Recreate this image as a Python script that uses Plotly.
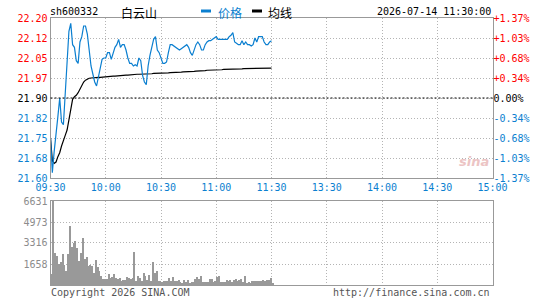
import plotly.graph_objects as go

W, H = 545, 300
prev_close = 21.90

# ---- data (morning session, one point per minute from 09:30 to 11:30) ----
minutes = list(range(121))
price = [21.75, 21.62, 21.70, 21.78, 21.83, 21.90, 21.81, 21.80, 21.93, 22.04,
         22.15, 22.18, 22.10, 22.09, 22.04, 22.03, 22.11, 22.13, 22.17, 22.17,
         22.14, 22.08, 22.02, 21.99, 21.96, 21.945, 21.98, 22.01, 22.045, 22.05,
         22.05, 22.07, 22.07, 22.045, 22.07, 22.09, 22.10, 22.12, 22.09, 22.10,
         22.10, 22.08, 22.05, 22.03, 22.03, 22.02, 22.025, 22.02, 22.05, 22.04,
         21.985, 21.96, 21.95, 22.02, 22.06, 22.09, 22.12, 22.13, 22.08, 22.07,
         22.05, 22.03, 22.03, 22.035, 22.07, 22.10, 22.10, 22.095, 22.09, 22.085,
         22.08, 22.085, 22.09, 22.095, 22.10, 22.09, 22.07, 22.06, 22.08, 22.10,
         22.11, 22.10, 22.08, 22.08, 22.10, 22.11, 22.115, 22.115, 22.12, 22.125,
         22.13, 22.12, 22.12, 22.12, 22.12, 22.12, 22.12, 22.13, 22.135, 22.145,
         22.11, 22.105, 22.10, 22.10, 22.115, 22.10, 22.11, 22.10, 22.10, 22.095,
         22.10, 22.125, 22.11, 22.13, 22.13, 22.13, 22.11, 22.10, 22.10, 22.11, 22.115]
avg = [21.75, 21.665, 21.655, 21.66, 21.68, 21.695, 21.72, 21.745, 21.76, 21.78,
       21.815, 21.86, 21.895, 21.905, 21.91, 21.92, 21.935, 21.95, 21.96, 21.967,
       21.972, 21.974, 21.975, 21.976, 21.976, 21.976, 21.977, 21.977, 21.978, 21.978,
       21.979, 21.98, 21.98, 21.981, 21.982, 21.982, 21.983, 21.984, 21.984, 21.985,
       21.985, 21.986, 21.986, 21.987, 21.987, 21.988, 21.988, 21.989, 21.989, 21.989,
       21.99, 21.99, 21.99, 21.991, 21.991, 21.991, 21.992, 21.992, 21.992, 21.993,
       21.993, 21.993, 21.994, 21.994, 21.994, 21.995, 21.995, 21.995, 21.996, 21.996,
       21.997, 21.997, 21.998, 21.998, 21.999, 21.999, 22.0, 22.0, 22.0, 22.001,
       22.001, 22.002, 22.002, 22.003, 22.003, 22.004, 22.004, 22.004, 22.005, 22.005,
       22.005, 22.006, 22.006, 22.006, 22.007, 22.007, 22.007, 22.008, 22.008, 22.008,
       22.008, 22.009, 22.009, 22.009, 22.009, 22.01, 22.01, 22.01, 22.01, 22.01,
       22.011, 22.011, 22.011, 22.011, 22.011, 22.011, 22.012, 22.012, 22.012, 22.012, 22.012]
volume = [868, 6631, 2526, 2315, 1658, 1816, 2447, 1605, 1132, 2447,
          4684, 3000, 3289, 3500, 2920, 1920, 2526, 3710, 2079, 2236,
          1526, 1605, 1526, 974, 1974, 1421, 1132, 710, 474, 474,
          474, 868, 553, 658, 868, 553, 500, 553, 290, 395,
          395, 632, 553, 500, 553, 2605, 290, 710, 553, 290,
          947, 710, 395, 816, 290, 1816, 947, 1132, 290, 290,
          263, 290, 290, 342, 553, 290, 632, 290, 290, 395,
          210, 132, 395, 263, 395, 132, 263, 263, 474, 658,
          500, 684, 237, 237, 237, 237, 447, 447, 237, 290,
          605, 684, 237, 237, 237, 368, 342, 395, 237, 395,
          474, 290, 421, 474, 237, 684, 132, 237, 158, 290,
          290, 290, 290, 290, 290, 395, 290, 395, 395, 553, 132]

x_tick_vals = [0, 30, 60, 90, 120, 150, 180, 210, 240]
x_tick_text = ["09:30", "10:00", "10:30", "11:00", "11:30", "13:30", "14:00", "14:30", "15:00"]
price_ticks = [21.60, 21.675, 21.75, 21.825, 21.90, 21.975, 22.05, 22.125, 22.20]
price_tick_text = ["21.60", "21.68", "21.75", "21.82", "21.90", "21.97", "22.05", "22.12", "22.20"]
pct_tick_text = ["-1.37%", "-1.03%", "-0.68%", "-0.34%", "0.00%", "+0.34%", "+0.68%", "+1.03%", "+1.37%"]
vol_ticks = [1658, 3316, 4973, 6631]
vol_tick_text = ["1658", "3316", "4973", "6631"]

RED = "#ff0000"
BLUE = "#0b7fd0"
BLACK = "#000000"
GRAY = "#999999"
GRID = "#b4b4b4"
MONO = "DejaVu Sans Mono"
CJK = "Noto Sans CJK SC"


def col(v):
    if abs(v - prev_close) < 1e-9:
        return BLACK
    return RED if v > prev_close else BLUE


def px(x):
    return x / W


def py(y):
    return 1 - y / H


price_tt = ['<span style="color:%s">%s</span>' % (col(v), t) for v, t in zip(price_ticks, price_tick_text)]
pct_vals = [(v / prev_close - 1) * 100 for v in price_ticks]
pct_tt = ['<span style="color:%s">%s</span>' % (col(v), t) for v, t in zip(price_ticks, pct_tick_text)]
pct_pr = [(p / prev_close - 1) * 100 for p in price]

xdom = [px(50.5), px(492.5)]
main_dom = [py(178), py(18)]
vol_dom = [py(285), py(201)]

fig = go.Figure()
fig.add_trace(go.Scatter(x=minutes, y=avg, mode="lines", line=dict(color=BLACK, width=1.2),
                         xaxis="x", yaxis="y", hoverinfo="skip"))
fig.add_trace(go.Scatter(x=minutes, y=price, mode="lines", line=dict(color=BLUE, width=1.2),
                         xaxis="x", yaxis="y", hoverinfo="skip"))
fig.add_trace(go.Scatter(x=minutes, y=pct_pr, mode="lines", line=dict(color=BLUE, width=0),
                         opacity=0, xaxis="x", yaxis="y2", hoverinfo="skip"))
fig.add_trace(go.Bar(x=[m + 0.3 for m in minutes], y=volume, width=0.55, marker=dict(color=GRAY, line=dict(width=0)),
                     xaxis="x2", yaxis="y3", hoverinfo="skip"))

common_x = dict(range=[0, 240], tickvals=x_tick_vals, showgrid=True, gridcolor=GRID, griddash="1px,2px",
                gridwidth=1, showline=True, linecolor=GRAY, linewidth=1, mirror=True, zeroline=False,
                ticks="", automargin=False, fixedrange=True)

fig.update_layout(
    width=W, height=H, autosize=False,
    margin=dict(l=0, r=0, t=0, b=0, pad=0),
    paper_bgcolor="white", plot_bgcolor="white",
    showlegend=False, bargap=0,
    font=dict(family=MONO, size=10, color=BLACK),
    xaxis=dict(domain=xdom, anchor="y", ticktext=x_tick_text,
               tickfont=dict(family=MONO, size=10, color=BLUE), **common_x),
    xaxis2=dict(domain=xdom, anchor="y3", matches="x", showticklabels=False, **common_x),
    yaxis=dict(domain=main_dom, anchor="x", range=[21.60, 22.20], tickvals=price_ticks, ticktext=price_tt,
               showgrid=True, gridcolor=GRID, griddash="1px,2px", gridwidth=1,
               showline=True, linecolor=GRAY, linewidth=1, mirror=True, zeroline=False,
               ticks="", tickfont=dict(family=MONO, size=10), automargin=False, fixedrange=True),
    yaxis2=dict(overlaying="y", anchor="x", side="right",
                range=[(21.60 / prev_close - 1) * 100, (22.20 / prev_close - 1) * 100],
                tickvals=pct_vals, ticktext=pct_tt, showgrid=False, zeroline=False, showline=False,
                ticks="", tickfont=dict(family=MONO, size=10), automargin=False, fixedrange=True),
    yaxis3=dict(domain=vol_dom, anchor="x2", range=[0, 6631], tickvals=vol_ticks, ticktext=vol_tick_text,
                showgrid=True, gridcolor=GRID, griddash="1px,2px", gridwidth=1,
                showline=True, linecolor=GRAY, linewidth=1, mirror=True, zeroline=False,
                ticks="", tickfont=dict(family=MONO, size=10, color="#8c8c8c"),
                automargin=False, fixedrange=True),
)

# previous close reference line
fig.add_shape(type="line", xref="x domain", yref="y", x0=0, x1=1, y0=prev_close, y1=prev_close,
              line=dict(color=BLACK, width=1, dash="2px,2px"))

# header legend marks
fig.add_shape(type="rect", xref="paper", yref="paper", x0=px(201), x1=px(211), y0=py(12.5), y1=py(9.5),
              fillcolor=BLUE, line=dict(width=0))
fig.add_shape(type="rect", xref="paper", yref="paper", x0=px(252), x1=px(262), y0=py(12.5), y1=py(9.5),
              fillcolor=BLACK, line=dict(width=0))

ann = [
    dict(text="sh600332", x=px(48), y=py(11.5), xanchor="left", font=dict(family=MONO, size=10, color=BLACK)),
    dict(text="白云山", x=px(119), y=py(12), xanchor="left", font=dict(family=CJK, size=12, color=BLACK)),
    dict(text="价格", x=px(216), y=py(12), xanchor="left", font=dict(family=CJK, size=12, color=BLUE)),
    dict(text="均线", x=px(266), y=py(12), xanchor="left", font=dict(family=CJK, size=12, color=BLACK)),
    dict(text="2026-07-14 11:30:00", x=px(493), y=py(11.5), xanchor="right", font=dict(family=MONO, size=10, color=BLACK)),
    dict(text="Copyright 2026 SINA.COM", x=px(49), y=py(292.5), xanchor="left", font=dict(family=MONO, size=10, color="#555555")),
    dict(text="http://finance.sina.com.cn", x=px(492), y=py(292.5), xanchor="right", font=dict(family=MONO, size=10, color="#555555")),
    dict(text="<i><b>sina</b></i>", x=px(474), y=py(161), xanchor="center", font=dict(family="DejaVu Sans", size=13, color="#ecc4c4")),
]
for a in ann:
    a.update(xref="paper", yref="paper", yanchor="middle", showarrow=False)
    fig.add_annotation(**a)

fig.write_html("out.html")
